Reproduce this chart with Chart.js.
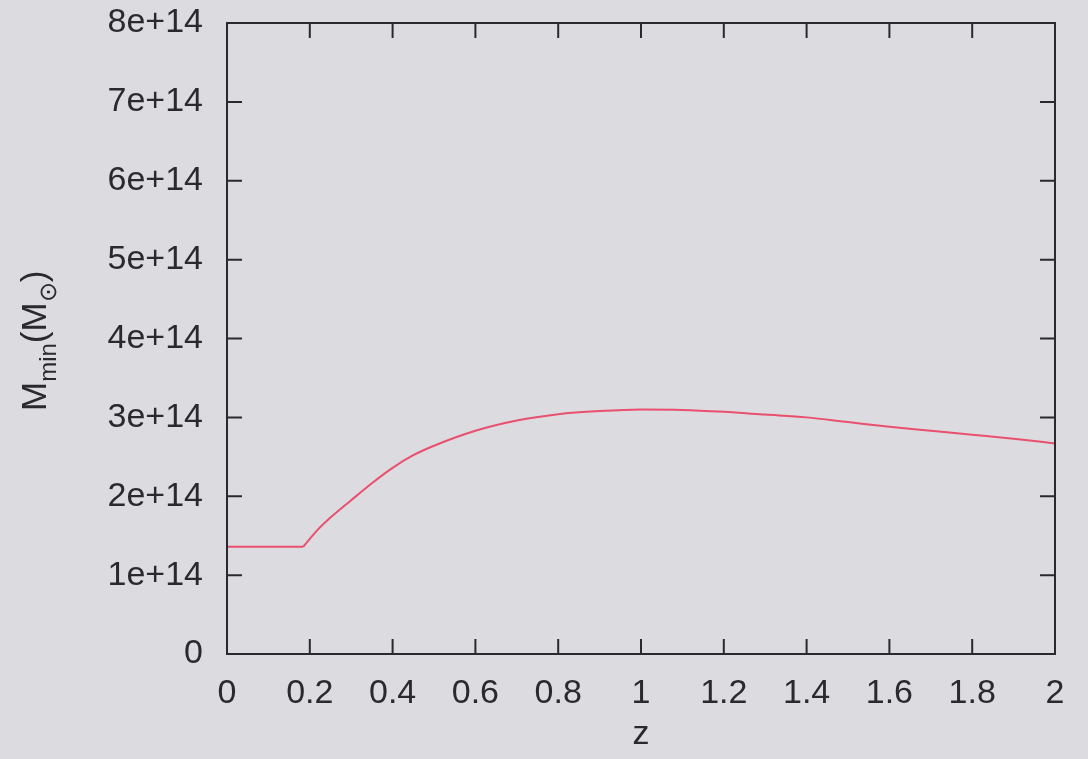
<!DOCTYPE html>
<html>
<head>
<meta charset="utf-8">
<style>
  html, body { margin: 0; padding: 0; background: #dcdbe0; }
  #wrap { width: 1088px; height: 759px; }
</style>
<script src="https://cdn.jsdelivr.net/npm/chart.js@4/dist/chart.umd.min.js"></script>
</head>
<body>
<div id="wrap"><canvas id="mminChart" width="1088" height="759"></canvas></div>
<script>
// values
const redshift = [0, 0.184, 0.22, 0.25, 0.3, 0.35, 0.4, 0.45, 0.5, 0.6, 0.7, 0.8, 0.9, 1.0, 1.1, 1.2, 1.3, 1.4, 1.5, 1.6, 1.7, 1.8, 1.9, 2.0];
const minMass = [1.36e14, 1.36e14, 1.58e14, 1.73e14, 1.95e14, 2.165e14, 2.36e14, 2.52e14, 2.64e14, 2.83e14, 2.96e14, 3.04e14, 3.08e14, 3.10e14,
                 3.095e14, 3.07e14, 3.035e14, 3.00e14, 2.94e14, 2.88e14, 2.83e14, 2.78e14, 2.73e14, 2.67e14];
const kinkIndex = 1; // end of the flat part
const xTicks = ['0', '0.2', '0.4', '0.6', '0.8', '1', '1.2', '1.4', '1.6', '1.8', '2'];
const yTicks = ['0', '1e+14', '2e+14', '3e+14', '4e+14', '5e+14', '6e+14', '7e+14', '8e+14'];

const bgColor = '#dcdbe0';
const inkColor = '#2a2a2e';
const lineColor = '#e8506e';
const labelFont = { family: '"Liberation Sans", Arial, sans-serif', size: 34 };

const points = redshift.map((z, i) => ({ x: z, y: minMass[i] }));

// background + frame with inward ticks on all four sides (gnuplot look)
const framePlugin = {
    id: 'frame',
    beforeDraw(chart) {
        const ctx = chart.ctx;
        ctx.save();
        ctx.fillStyle = bgColor;
        ctx.fillRect(0, 0, chart.width, chart.height);
        ctx.restore();
    },
    afterDatasetsDraw(chart) {
        const ctx = chart.ctx;
        const a = chart.chartArea;
        const xs = chart.scales.x, ys = chart.scales.y;
        const tick = 15;
        ctx.save();
        ctx.strokeStyle = inkColor;
        ctx.lineWidth = 2;
        ctx.beginPath();
        xs.ticks.forEach(t => {
            const px = xs.getPixelForValue(t.value);
            ctx.moveTo(px, a.bottom); ctx.lineTo(px, a.bottom - tick);
            ctx.moveTo(px, a.top); ctx.lineTo(px, a.top + tick);
        });
        ys.ticks.forEach(t => {
            const py = ys.getPixelForValue(t.value);
            ctx.moveTo(a.left, py); ctx.lineTo(a.left + tick, py);
            ctx.moveTo(a.right, py); ctx.lineTo(a.right - tick, py);
        });
        ctx.stroke();
        ctx.strokeRect(a.left, a.top, a.right - a.left, a.bottom - a.top);

        // y title: M_min(M_sun) with subscripts
        ctx.fillStyle = inkColor;
        ctx.translate(46, 411);
        ctx.rotate(-Math.PI / 2);
        ctx.textBaseline = 'alphabetic';
        ctx.textAlign = 'left';
        const big = '35px "Liberation Sans", Arial, sans-serif';
        const small = '24px "Liberation Sans", Arial, sans-serif';
        const parts = [['M', big, 0], ['min', small, 10], ['(M', big, 0], ['\u2299', small, 10], [')', big, 0]];
        let x = 0;
        parts.forEach(([txt, font, dy]) => {
            ctx.font = font;
            ctx.fillText(txt, x, dy);
            x += ctx.measureText(txt).width;
        });
        ctx.restore();
    }
};

const ctx = document.getElementById('mminChart').getContext('2d');
new Chart(ctx, {
    type: 'line',
    data: {
        datasets: [{
            // flat part, straight
            data: points.slice(0, kinkIndex + 1),
            borderColor: lineColor,
            borderWidth: 2,
            pointRadius: 0,
            tension: 0,
            fill: false
        }, {
            // rising / falling part, smooth
            data: points.slice(kinkIndex),
            borderColor: lineColor,
            borderWidth: 2,
            pointRadius: 0,
            cubicInterpolationMode: 'monotone',
            fill: false
        }]
    },
    options: {
        responsive: false,
        animation: false,
        layout: { padding: { left: 0, top: 23, right: 33, bottom: 0 } },
        plugins: { legend: { display: false }, tooltip: { enabled: false } },
        scales: {
            x: {
                type: 'linear',
                min: 0, max: 2,
                grid: { display: false, drawTicks: false },
                border: { display: false },
                ticks: {
                    stepSize: 0.2,
                    padding: 19,
                    color: inkColor,
                    font: labelFont,
                    maxRotation: 0,
                    callback: (v) => xTicks[Math.round(v / 0.2)]
                },
                title: { display: true, text: 'z', color: inkColor, font: labelFont, padding: { top: 0, bottom: 4 } },
                afterFit: (s) => { s.height = 105; }
            },
            y: {
                min: 0, max: 8e14,
                grid: { display: false, drawTicks: false },
                border: { display: false },
                ticks: {
                    stepSize: 1e14,
                    padding: 24,
                    color: inkColor,
                    font: labelFont,
                    callback: (v) => yTicks[Math.round(v / 1e14)]
                },
                afterFit: (s) => { s.width = 227; s.paddingTop = 0; s.paddingBottom = 0; }
            }
        }
    },
    plugins: [framePlugin]
});
</script>
</body>
</html>
